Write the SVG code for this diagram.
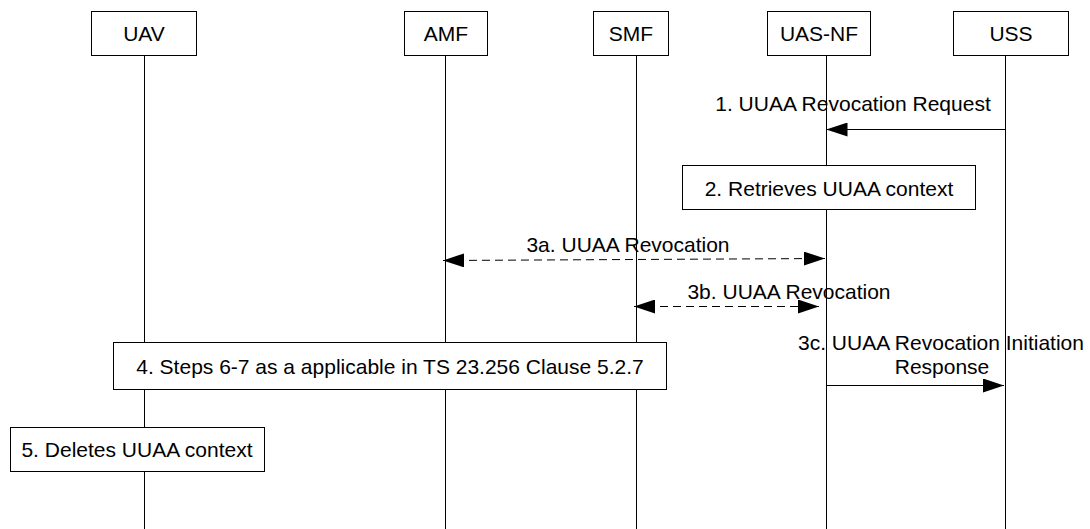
<svg xmlns="http://www.w3.org/2000/svg" width="1090" height="529" viewBox="0 0 1090 529">
<style>
  .box { fill: #ffffff; stroke: #000000; stroke-width: 1; }
  .life { stroke: #000000; stroke-width: 1; fill: none; }
  .msg { stroke: #000000; stroke-width: 1; fill: none; marker-end: url(#head); }
  .dash { stroke-dasharray: 8 5; }
  .both { marker-start: url(#head); }
  text { font-family: "Liberation Sans", Arial, sans-serif; font-size: 21px; fill: #000000; text-anchor: middle; }
</style>
<defs>
  <marker id="head" markerUnits="userSpaceOnUse" markerWidth="21" markerHeight="14" refX="21" refY="7" orient="auto-start-reverse" viewBox="0 0 21 14">
    <path d="M0,0 L21,7 L0,14 z" fill="#000000"/>
  </marker>
</defs>
<rect width="1090" height="529" fill="#ffffff"/>
<g id="lifelines">
  <line class="life" x1="144.5" y1="55" x2="144.5" y2="529"/>
  <line class="life" x1="445.5" y1="55" x2="445.5" y2="529"/>
  <line class="life" x1="636.5" y1="55" x2="636.5" y2="529"/>
  <line class="life" x1="826.5" y1="55" x2="826.5" y2="529"/>
  <line class="life" x1="1005.5" y1="55" x2="1005.5" y2="529"/>
</g>
<g id="UAV"><rect class="box" x="91.5" y="11.5" width="105" height="44"/><text x="144" y="41">UAV</text></g>
<g id="AMF"><rect class="box" x="404.5" y="11.5" width="83" height="44"/><text x="446" y="41">AMF</text></g>
<g id="SMF"><rect class="box" x="593.5" y="11.5" width="75" height="44"/><text x="631" y="41">SMF</text></g>
<g id="UAS-NF"><rect class="box" x="767.5" y="11.5" width="103" height="44"/><text x="819" y="41">UAS-NF</text></g>
<g id="USS"><rect class="box" x="953.5" y="11.5" width="115" height="44"/><text x="1011" y="41">USS</text></g>
<g id="step2"><rect class="box" x="682.5" y="165.5" width="293" height="44"/><text x="829" y="196">2. Retrieves UUAA context</text></g>
<g id="step4"><rect class="box" x="113.5" y="342.5" width="553" height="47"/><text x="390" y="374">4. Steps 6-7 as a applicable in TS 23.256 Clause 5.2.7</text></g>
<g id="step5"><rect class="box" x="10.5" y="427.5" width="254" height="44"/><text x="137" y="457">5. Deletes UUAA context</text></g>
<g id="connectors">
  <line class="msg" x1="1005.5" y1="129.5" x2="826.5" y2="129.5"/>
  <text x="853" y="111">1. UUAA Revocation Request</text>
  <line class="msg dash both" x1="443" y1="260.5" x2="825" y2="258.5"/>
  <text x="628" y="252">3a. UUAA Revocation</text>
  <line class="msg dash both" x1="634" y1="306.5" x2="819" y2="306.5"/>
  <text x="789" y="299">3b. UUAA Revocation</text>
  <line class="msg" x1="826.5" y1="385.5" x2="1004" y2="385.5"/>
  <text x="941" y="350">3c. UUAA Revocation Initiation</text>
  <text x="942" y="374">Response</text>
</g>
</svg>
